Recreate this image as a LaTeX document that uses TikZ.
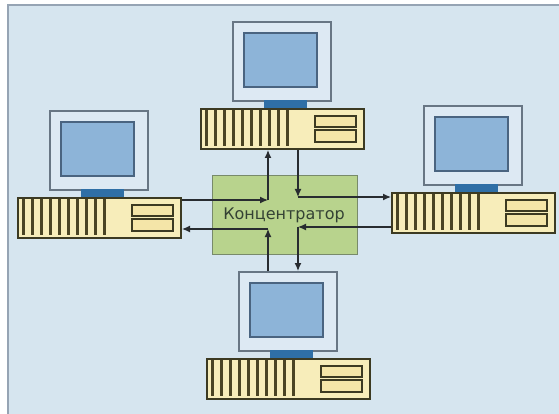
\documentclass[tikz,border=0pt]{standalone}
\usepackage{fontspec}
\setmainfont{DejaVu Sans}
\usetikzlibrary{arrows.meta}
\definecolor{bgcol}{RGB}{214,229,239}
\definecolor{framecol}{RGB}{150,164,180}
\definecolor{moncol}{RGB}{221,233,243}
\definecolor{monedge}{RGB}{104,118,132}
\definecolor{scrcol}{RGB}{141,180,216}
\definecolor{scredge}{RGB}{74,100,128}
\definecolor{standcol}{RGB}{47,111,166}
\definecolor{casecol}{RGB}{247,237,186}
\definecolor{caseedge}{RGB}{60,58,34}
\definecolor{ventcol}{RGB}{74,68,36}
\definecolor{baycol}{RGB}{244,229,168}
\definecolor{hubcol}{RGB}{184,211,141}
\definecolor{hubedge}{RGB}{120,138,106}
\definecolor{wirecol}{RGB}{40,44,48}
\definecolor{hubtxt}{RGB}{52,66,52}
\begin{document}
\begin{tikzpicture}[x=1pt,y=-1pt,
  casebox/.style={draw=caseedge,fill=casecol,line width=2pt,anchor=north west,
    minimum width=163pt,minimum height=40pt,inner sep=0pt},
  monbox/.style={draw=monedge,fill=moncol,line width=1.7pt,anchor=north west,
    minimum width=98pt,minimum height=79pt,inner sep=0pt},
  bay/.style={draw=caseedge,fill=baycol,line width=1.2pt},
  wire/.style={draw=wirecol,line width=1.3pt,-{Latex[length=8pt,width=7pt]}}]
\useasboundingbox (0,0) rectangle (559,414);
% panel
\fill[bgcol] (8,5) rectangle (559,414);
\draw[framecol,line width=1.8pt] (8,414) -- (8,5) -- (559,5);

% the four workstations: name / case corner
\foreach \n/\x/\y in {top/200/108,left/17/197,right/391/192,bottom/206/358}{
  \node[monbox] (\n mon) at (\x+32,\y-87) {};
  \filldraw[draw=scredge,fill=scrcol,line width=1.4pt] (\x+44,\y-75) rectangle (\x+117,\y-21);
  \fill[standcol] (\x+64,\y-8) rectangle (\x+107,\y);
  \node[casebox] (\n case) at (\x,\y) {};
  \foreach \i in {0,...,9}
    \fill[ventcol] (\x+5+9*\i,\y+2) rectangle +(3,36);
  \draw[bay] (\x+115,\y+8) rectangle (\x+156,\y+19);
  \draw[bay] (\x+115,\y+22) rectangle (\x+156,\y+34);
}

% hub
\node[draw=hubedge,fill=hubcol,line width=1.2pt,minimum width=145pt,minimum height=79pt,
  anchor=north west,inner sep=0pt] (hub) at (212,175) {};
\node[text=hubtxt,font=\fontsize{16}{18}\selectfont] (hubtext) at (284,215) {Концентратор};

% ring through the hub
\coordinate (inL) at (268,200);
\coordinate (inT) at (298,197);
\coordinate (inR) at (298,227);
\coordinate (inB) at (268,229);
\draw[wire] (leftcase.east |- inL) -- (inL);
\draw[wire] (inL) -- (topcase.south -| inL);
\draw[wire] (topcase.south -| inT) -- (inT);
\draw[wire] (inT) -- (rightcase.west |- inT);
\draw[wire] (rightcase.west |- inR) -- (inR);
\draw[wire] (inR) -- (bottommon.north -| inR);
\draw[wire] (bottommon.north -| inB) -- (inB);
\draw[wire] (inB) -- (leftcase.east |- inB);
\end{tikzpicture}
\end{document}
